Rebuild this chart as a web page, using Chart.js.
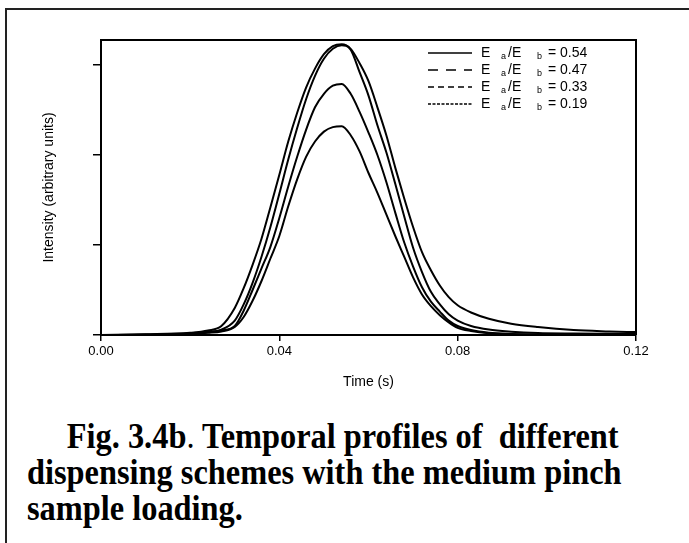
<!DOCTYPE html>
<html>
<head>
<meta charset="utf-8">
<title>Fig. 3.4b</title>
<script src="https://cdn.jsdelivr.net/npm/chart.js@4.4.1/dist/chart.umd.min.js"></script>
<style>
    html, body { margin: 0; padding: 0; background: #fff; }
    body { width: 689px; height: 543px; position: relative; overflow: hidden; }
    .page-frame {
        position: absolute; left: 5px; top: 8px; width: 720px; height: 560px;
        border-left: 2px solid #222; border-top: 2px solid #222;
    }
    .chart-box { position: absolute; left: 0; top: 0; width: 689px; height: 400px; }
    .caption {
        position: absolute; left: 27px; top: 419px; color: #000;
        font: bold 35px "Liberation Serif", "Times New Roman", serif;
        line-height: 36px; white-space: pre;
        transform: scaleX(0.925); transform-origin: left top;
    }
    .caption .first { padding-left: 43px; }
</style>
</head>
<body>
<div class="page-frame"></div>
<div class="chart-box"><canvas id="profileChart"></canvas></div>
<div class="caption"><div class="first">Fig. 3.4b<span style="font-weight:normal">.</span> Temporal profiles of  different</div><div>dispensing schemes with the medium pinch</div><div>sample loading.</div></div>

<script>
// ================== DATA ==================
const timeS = [0, 0.010, 0.020, 0.024, 0.027, 0.030, 0.032, 0.034, 0.036, 0.038,
    0.040, 0.042, 0.044, 0.046, 0.048, 0.050, 0.052, 0.054, 0.056, 0.058,
    0.060, 0.062, 0.064, 0.066, 0.068, 0.070, 0.072, 0.074, 0.076, 0.078,
    0.080, 0.083, 0.087, 0.092, 0.098, 0.106, 0.114, 0.120];

const ratio054 = [0, 0.008, 0.025, 0.05, 0.1, 0.3, 0.52, 0.78, 1.07, 1.42,
    1.78, 2.15, 2.47, 2.75, 2.96, 3.12, 3.21, 3.23, 3.18, 3.02,
    2.82, 2.53, 2.22, 1.86, 1.52, 1.2, 0.92, 0.72, 0.55, 0.42,
    0.33, 0.25, 0.18, 0.125, 0.088, 0.055, 0.04, 0.032];

const ratio047 = [0, 0.004, 0.02, 0.035, 0.06, 0.16, 0.34, 0.58, 0.87, 1.2,
    1.57, 1.95, 2.3, 2.62, 2.88, 3.07, 3.18, 3.22, 3.17, 2.92,
    2.66, 2.33, 2.03, 1.68, 1.32, 0.97, 0.7, 0.48, 0.34, 0.23,
    0.16, 0.1, 0.06, 0.037, 0.022, 0.016, 0.013, 0.012];

const ratio033 = [0, 0.003, 0.015, 0.03, 0.05, 0.1, 0.27, 0.5, 0.74, 0.98,
    1.3, 1.65, 1.98, 2.28, 2.53, 2.68, 2.77, 2.79, 2.68, 2.48,
    2.25, 2.0, 1.7, 1.36, 1.03, 0.76, 0.53, 0.37, 0.26, 0.16,
    0.1, 0.055, 0.025, 0.012, 0.006, 0.003, 0.001, 0];

const ratio019 = [0, 0.002, 0.012, 0.025, 0.04, 0.09, 0.2, 0.38, 0.6, 0.85,
    1.1, 1.43, 1.73, 1.98, 2.15, 2.26, 2.31, 2.32, 2.22, 2.04,
    1.8, 1.58, 1.34, 1.1, 0.87, 0.64, 0.45, 0.32, 0.22, 0.14,
    0.08, 0.045, 0.02, 0.01, 0.004, 0.002, 0.001, 0];

const ratioLabels = ['0.54', '0.47', '0.33', '0.19'];
const xTicks = [0, 0.04, 0.08, 0.12];

// legend line patterns (style only)
const legendDashes = [[], [10, 8], [6, 4], [3, 1.5]];

const FONT = '"Liberation Sans", Arial, sans-serif';

// ================== PLUGINS ==================
// top + right edge of the plot box
const frameBox = {
    id: 'frameBox',
    afterDraw(chart) {
        const { ctx, chartArea: a } = chart;
        ctx.save();
        ctx.strokeStyle = '#000';
        ctx.lineWidth = 2;
        ctx.beginPath();
        ctx.moveTo(a.left, a.top);
        ctx.lineTo(a.right, a.top);
        ctx.lineTo(a.right, a.bottom);
        ctx.stroke();
        ctx.restore();
    }
};

// legend with E_a / E_b subscripts
const ratioLegend = {
    id: 'ratioLegend',
    afterDatasetsDraw(chart) {
        const { ctx, chartArea: a } = chart;
        const x0 = a.right - 208;
        ctx.save();
        ctx.fillStyle = '#000';
        ctx.strokeStyle = '#000';
        ctx.lineWidth = 1.5;
        ctx.textBaseline = 'middle';
        ratioLabels.forEach((label, i) => {
            const y = a.top + 13 + i * 17;
            ctx.setLineDash(legendDashes[i]);
            ctx.beginPath();
            ctx.moveTo(x0, y);
            ctx.lineTo(x0 + 44, y);
            ctx.stroke();
            ctx.setLineDash([]);

            ctx.font = '14px ' + FONT;
            ctx.fillText('E', x0 + 53, y);
            ctx.fillText('/E', x0 + 80, y);
            ctx.fillText('= ' + label, x0 + 120, y);
            ctx.font = '9px ' + FONT;
            ctx.fillText('a', x0 + 73, y + 4);
            ctx.fillText('b', x0 + 109, y + 4);
        });
        ctx.restore();
    }
};

// ================== CHART ==================
const series = [ratio054, ratio047, ratio033, ratio019];

new Chart(document.getElementById('profileChart'), {
    type: 'line',
    data: {
        datasets: series.map((vals, i) => ({
            label: 'Ea/Eb = ' + ratioLabels[i],
            data: timeS.map((t, k) => ({ x: t, y: vals[k] })),
            borderColor: '#000',
            borderWidth: 2,
            pointRadius: 0,
            fill: false,
            cubicInterpolationMode: 'monotone'
        }))
    },
    options: {
        responsive: true,
        maintainAspectRatio: false,
        animation: false,
        layout: { padding: { top: 40, right: 53, left: 0, bottom: 0 } },
        plugins: { legend: { display: false }, tooltip: { enabled: false } },
        scales: {
            x: {
                type: 'linear',
                min: 0,
                max: 0.12,
                afterFit: (s) => { s.height = 65; },
                afterBuildTicks: (s) => { s.ticks = xTicks.map(v => ({ value: v })); },
                ticks: {
                    color: '#000',
                    font: { family: FONT, size: 13 },
                    padding: 3,
                    maxRotation: 0,
                    callback: (v) => Number(v).toFixed(2)
                },
                grid: { drawOnChartArea: false, drawTicks: true, tickLength: 6, color: '#000', lineWidth: 1.5 },
                border: { display: true, color: '#000', width: 2 },
                title: {
                    display: true,
                    text: 'Time (s)',
                    color: '#000',
                    font: { family: FONT, size: 14 },
                    padding: { top: 0, bottom: 9 }
                }
            },
            y: {
                min: 0,
                max: 3.278,
                afterFit: (s) => { s.width = 101; },
                ticks: {
                    stepSize: 1,
                    includeBounds: false,
                    callback: () => ''
                },
                grid: { drawOnChartArea: false, drawTicks: true, tickLength: 8, color: '#000', lineWidth: 1.5 },
                border: { display: true, color: '#000', width: 2 },
                title: {
                    display: true,
                    text: 'Intensity (arbitrary units)',
                    color: '#000',
                    font: { family: FONT, size: 14 },
                    padding: { top: 41, bottom: 0 }
                }
            }
        }
    },
    plugins: [frameBox, ratioLegend]
});
</script>
</body>
</html>
